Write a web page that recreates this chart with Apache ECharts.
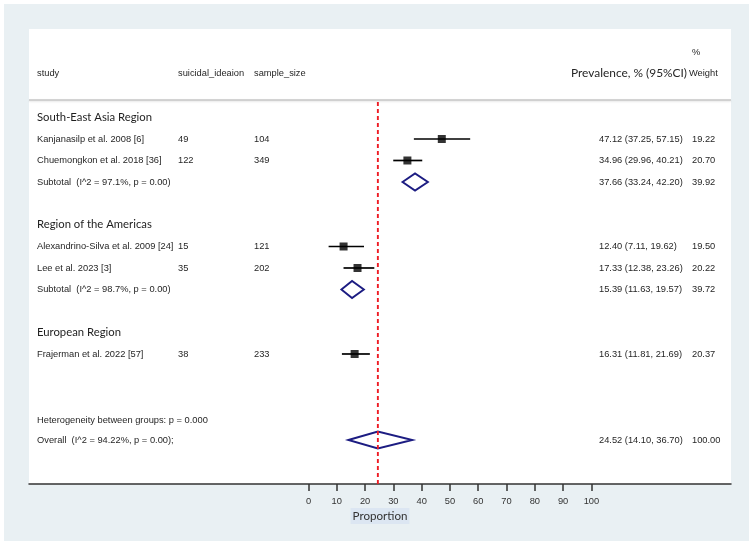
<!DOCTYPE html>
<html><head><meta charset="utf-8">
<script src="https://cdn.jsdelivr.net/npm/echarts@6/dist/echarts.min.js"></script>
<style>html,body{margin:0;padding:0;background:#fff}#c{width:753px;height:545px}</style>
</head><body><div id="c"></div>
<script>
// ---------------- data ----------------
const regions = ['South-East Asia Region', 'Region of the Americas', 'European Region'];
const studyNames = ['Kanjanasilp et al. 2008 [6]', 'Chuemongkon et al. 2018 [36]', 'Alexandrino-Silva et al. 2009 [24]', 'Lee et al. 2023 [3]', 'Frajerman et al. 2022 [57]'];
const studyRegion = [0, 0, 1, 1, 2];
const suicidalIdeation = [49, 122, 15, 35, 38];
const sampleSize = [104, 349, 121, 202, 233];
const studyEst = [47.12, 34.96, 12.40, 17.33, 16.31];
const studyLo = [37.25, 29.96, 7.11, 12.38, 11.81];
const studyHi = [57.15, 40.21, 19.62, 23.26, 21.69];
const studyCI = ['47.12 (37.25, 57.15)', '34.96 (29.96, 40.21)', '12.40 (7.11, 19.62)', '17.33 (12.38, 23.26)', '16.31 (11.81, 21.69)'];
const studyWeight = ['19.22', '20.70', '19.50', '20.22', '20.37'];

const subtotalRegion = [0, 1];
const subtotalLabel = ['Subtotal  (I^2 = 97.1%, p = 0.00)', 'Subtotal  (I^2 = 98.7%, p = 0.00)'];
const subtotalEst = [37.66, 15.39];
const subtotalLo = [33.24, 11.63];
const subtotalHi = [42.20, 19.57];
const subtotalCI = ['37.66 (33.24, 42.20)', '15.39 (11.63, 19.57)'];
const subtotalWeight = ['39.92', '39.72'];

const heterogeneityLabel = 'Heterogeneity between groups: p = 0.000';
const overallLabel = 'Overall  (I^2 = 94.22%, p = 0.00);';
const overallEst = 24.52, overallLo = 14.10, overallHi = 36.70;
const overallCI = '24.52 (14.10, 36.70)';
const overallWeight = '100.00';

const xTicks = [0, 10, 20, 30, 40, 50, 60, 70, 80, 90, 100];
const headers = ['study', 'suicidal_ideaion', 'sample_size', 'Prevalence, % (95%CI)', '%', 'Weight'];
const axisName = 'Proportion';

// ---------------- layout table built from data ----------------
const rows = [];
regions.forEach((r, g) => {
  rows.push({type: 'region', text: r});
  studyRegion.forEach((rg, i) => { if (rg === g) rows.push({type: 'study', i}); });
  const s = subtotalRegion.indexOf(g);
  if (s >= 0) rows.push({type: 'subtotal', s});
  rows.push({type: 'blank'});
});
rows.push({type: 'blank'});
rows.push({type: 'het'});
rows.push({type: 'overall'});
const rowOf = (pred) => rows.findIndex(pred);

const ARIAL = '"Liberation Sans", Arial, sans-serif';
const CAL = 'Lato, "Open Sans", sans-serif';
const TXT = '#262626';
const NAVY = '#1c1c82';
const COL = {study: 37, n1: 178, n2: 254, ci: 599, w: 692};
const Y_MIN = -4.116, Y_MAX = 17.047, RED_TOP = -0.72;
const FS = 9.3;

function txt(x, y, text, opt) {
  opt = opt || {};
  return {type: 'text', x: x, y: y, silent: true, style: {
    text: String(text), fill: opt.fill || TXT,
    fontSize: opt.size || FS, fontFamily: opt.family || ARIAL,
    align: opt.align || 'left', textAlign: opt.align || 'left',
    verticalAlign: 'middle', textVerticalAlign: 'middle'}};
}

const studyData = studyNames.map((n, i) => [studyLo[i], studyHi[i], rowOf(r => r.type === 'study' && r.i === i), studyEst[i]]);
const diamondData = subtotalEst.map((e, s) => [subtotalLo[s], e, subtotalHi[s], rowOf(r => r.type === 'subtotal' && r.s === s)]);
diamondData.push([overallLo, overallEst, overallHi, rowOf(r => r.type === 'overall')]);

const option = {
  backgroundColor: '#ffffff',
  animation: false,
  graphic: [
    {type: 'rect', z: -100, silent: true, shape: {x: 4, y: 4, width: 745, height: 537}, style: {fill: '#e9f0f3'}},
    {type: 'line', z: 50, silent: true, shape: {x1: 29, y1: 100, x2: 731, y2: 100},
      style: {stroke: '#c6c6c6', lineWidth: 1.5, shadowBlur: 2, shadowOffsetY: 1, shadowColor: 'rgba(0,0,0,0.12)'}},
    Object.assign(txt(COL.study, 73, headers[0]), {z: 50}),
    Object.assign(txt(COL.n1, 73, headers[1]), {z: 50}),
    Object.assign(txt(COL.n2, 73, headers[2]), {z: 50}),
    Object.assign(txt(687, 73, headers[3], {align: 'right', size: 11.9, family: CAL}), {z: 50}),
    Object.assign(txt(692, 52, headers[4]), {z: 50}),
    Object.assign(txt(689, 73, headers[5]), {z: 50})
  ],
  grid: {left: 29, right: 22, top: 29, bottom: 61, show: true, backgroundColor: '#ffffff', borderWidth: 0},
  xAxis: {
    type: 'value', min: -98.8, max: 149.35,
    axisLine: {show: true, onZero: false, lineStyle: {color: '#333', width: 1.5}},
    axisTick: {show: true, customValues: xTicks, length: 7, lineStyle: {color: '#333', width: 1.5}},
    axisLabel: {customValues: xTicks, margin: 13, fontSize: FS, fontFamily: ARIAL, color: '#333'},
    splitLine: {show: false},
    name: axisName, nameLocation: 'middle', nameGap: 24, nameMoveOverlap: false,
    nameTextStyle: {fontFamily: CAL, fontSize: 11.6, color: '#333', backgroundColor: '#dce6f2', padding: [2, 2, 2, 2]}
  },
  yAxis: {type: 'value', inverse: true, min: Y_MIN, max: Y_MAX, show: false},
  series: [
    { // row texts
      type: 'custom', silent: true, z: 5,
      data: rows.map((r, k) => [0, k]),
      renderItem: function (params, api) {
        const r = rows[params.dataIndex];
        const y = api.coord([0, api.value(1)])[1];
        const c = [];
        if (r.type === 'region') c.push(txt(COL.study, y - 0.5, r.text, {size: 11.3, family: CAL, fill: '#1e1e1e'}));
        else if (r.type === 'study') {
          c.push(txt(COL.study, y, studyNames[r.i]));
          c.push(txt(COL.n1, y, suicidalIdeation[r.i]));
          c.push(txt(COL.n2, y, sampleSize[r.i]));
          c.push(txt(COL.ci, y, studyCI[r.i]));
          c.push(txt(COL.w, y, studyWeight[r.i]));
        } else if (r.type === 'subtotal') {
          c.push(txt(COL.study, y, subtotalLabel[r.s]));
          c.push(txt(COL.ci, y, subtotalCI[r.s]));
          c.push(txt(COL.w, y, subtotalWeight[r.s]));
        } else if (r.type === 'het') {
          c.push(txt(COL.study, y + 1.5, heterogeneityLabel));
        } else if (r.type === 'overall') {
          c.push(txt(COL.study, y, overallLabel));
          c.push(txt(COL.ci, y, overallCI));
          c.push(txt(COL.w, y, overallWeight));
        }
        return {type: 'group', children: c};
      }
    },
    { // confidence intervals
      type: 'custom', silent: true, z: 6,
      data: studyData,
      renderItem: function (params, api) {
        const a = api.coord([api.value(0), api.value(2)]);
        const b = api.coord([api.value(1), api.value(2)]);
        return {type: 'line', shape: {x1: a[0], y1: a[1], x2: b[0], y2: b[1]}, style: {stroke: '#000', lineWidth: 1.7}};
      }
    },
    { // point estimates
      type: 'scatter', silent: true, z: 7, symbol: 'rect', symbolSize: 8,
      itemStyle: {color: '#000'},
      data: studyData.map(d => [d[3], d[2]])
    },
    { // pooled diamonds
      type: 'custom', silent: true, z: 8,
      data: diamondData,
      renderItem: function (params, api) {
        const k = api.value(3);
        const l = api.coord([api.value(0), k]);
        const c = api.coord([api.value(1), k]);
        const r = api.coord([api.value(2), k]);
        const h = 8.5;
        return {type: 'polygon', shape: {points: [[l[0], c[1]], [c[0], c[1] - h], [r[0], c[1]], [c[0], c[1] + h]]},
          style: {fill: 'none', stroke: NAVY, lineWidth: 1.9}};
      }
    },
    { // overall reference line
      type: 'line', silent: true, z: 9, symbol: 'none',
      data: [[overallEst, RED_TOP], [overallEst, Y_MAX]],
      lineStyle: {color: '#ee1c24', width: 1.9, type: [4, 3]}
    }
  ]
};
const chart = echarts.init(document.getElementById('c'));
chart.setOption(option);
</script>
</body></html>
